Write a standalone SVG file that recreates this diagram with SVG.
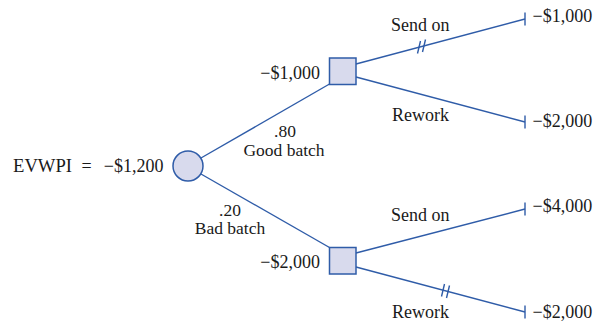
<svg xmlns="http://www.w3.org/2000/svg" width="597" height="324" viewBox="0 0 597 324">
<style>
.ln{stroke:#2f5ca8;stroke-width:1.4;fill:none}
.nd{stroke:#2f5ca8;stroke-width:1.5;fill:#d8daed}
text{font-family:"Liberation Serif","Times New Roman",serif;font-size:18px;fill:#1a1a1a}
.m{text-anchor:middle}
.e{text-anchor:end}
.p{font-size:17.5px}
</style>
<rect width="597" height="324" fill="#ffffff"/>
<g id="connectors">
<line class="ln" x1="201" y1="158" x2="329.5" y2="84"/>
<line class="ln" x1="201" y1="174" x2="329.5" y2="247.5"/>
<line class="ln" x1="356" y1="64" x2="525" y2="19"/>
<line class="ln" x1="356" y1="77" x2="525" y2="122"/>
<line class="ln" x1="356" y1="253" x2="525" y2="209"/>
<line class="ln" x1="356" y1="267" x2="525" y2="312"/>
<path class="ln" d="M525 12.5V25.5M525 115.5V128.5M525 202.5V215.5M525 305.5V318.5"/>
<path class="ln" d="M417.5 53.5L420.5 41M422.5 52L425.5 39.5"/>
<path class="ln" d="M441.5 296.5L444.5 284M446.5 298L449.5 285.5"/>
</g>
<g id="root">
<circle class="nd" cx="188" cy="166" r="15"/>
<text x="13" y="172" textLength="59" lengthAdjust="spacingAndGlyphs">EVWPI</text>
<text class="m" x="86.5" y="172">=</text>
<text class="e" x="163.5" y="172">−$1,200</text>
</g>
<g id="good">
<rect class="nd" x="329.5" y="58" width="26.5" height="26.5"/>
<text class="e" x="320" y="79">−$1,000</text>
</g>
<g id="bad">
<rect class="nd" x="329.5" y="247.5" width="26.5" height="26.5"/>
<text class="e" x="320" y="268">−$2,000</text>
</g>
<g id="labels">
<text class="m p" x="285" y="136.5">.80</text>
<text class="m p" x="284" y="155.5">Good batch</text>
<text class="m p" x="230" y="215.5">.20</text>
<text class="m p" x="230" y="234">Bad batch</text>
<text x="391" y="31">Send on</text>
<text x="392" y="120.5">Rework</text>
<text x="391" y="220.5">Send on</text>
<text x="392" y="318">Rework</text>
</g>
<g id="outcome1"><text x="532.5" y="22">−$1,000</text></g>
<g id="outcome2"><text x="532.5" y="127">−$2,000</text></g>
<g id="outcome3"><text x="532.5" y="212">−$4,000</text></g>
<g id="outcome4"><text x="532.5" y="318">−$2,000</text></g>
</svg>
